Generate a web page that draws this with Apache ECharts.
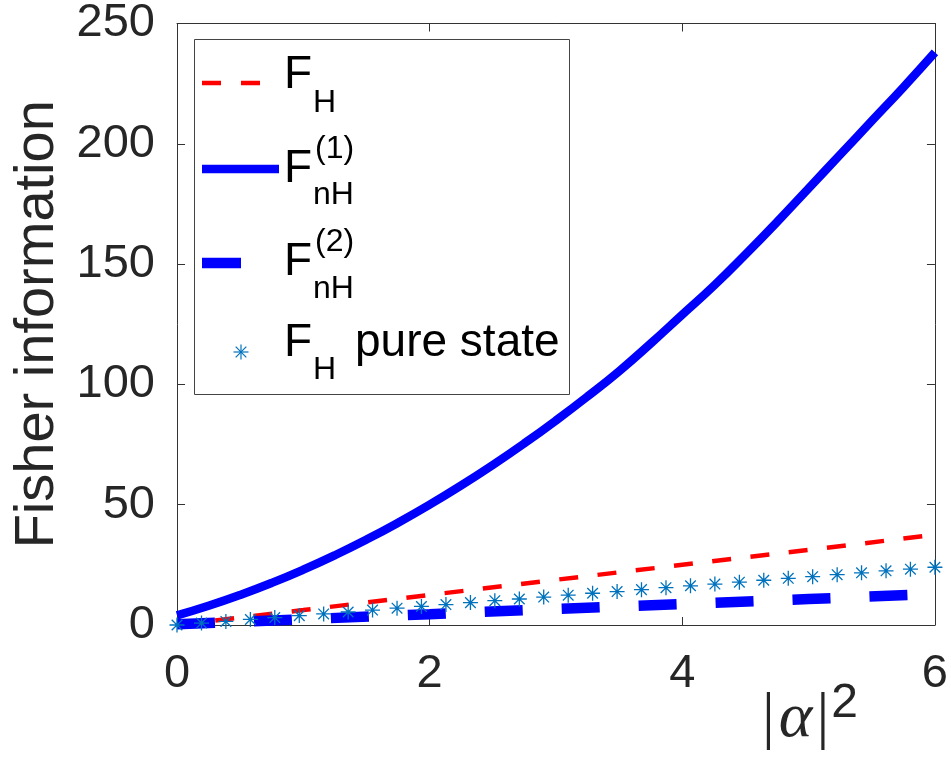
<!DOCTYPE html>
<html>
<head>
<meta charset="utf-8">
<script src="https://cdn.jsdelivr.net/npm/echarts@6/dist/echarts.min.js"></script>
<style>
html,body{margin:0;padding:0;background:#fff;}
#chart{width:951px;height:768px;}
</style>
</head>
<body>
<div id="chart"></div>
<script>
// ---- data ----
const xTicks = [0, 2, 4, 6];
const yTicks = [0, 50, 100, 150, 200, 250];

const fH_x = [0, 1, 2, 3, 4, 5, 6];
const fH_y = [0, 6.2, 12.5, 18.8, 25.0, 31.2, 37.5];

const fnH1_x = [0, 0.25, 0.5, 0.75, 1, 1.25, 1.5, 1.75, 2, 2.25, 2.5, 2.75, 3, 3.25, 3.5, 3.75, 4, 4.25, 4.5, 4.75, 5, 5.25, 5.5, 5.75, 6];
const fnH1_y = [4.0, 8.0, 12.5, 17.5, 23.0, 29.0, 35.5, 42.5, 50.0, 58.0, 66.5, 75.5, 85.0, 95.0, 105.5, 117.0, 129.0, 141.0, 154.0, 167.5, 181.5, 195.5, 209.5, 223.5, 238.0];

const fnH2_x = [0, 1, 2, 3, 4, 5, 6];
const fnH2_y = [0.3, 2.4, 4.5, 6.7, 8.7, 10.8, 12.9];

const pure_x = [0, 0.194, 0.387, 0.581, 0.774, 0.968, 1.161, 1.355, 1.548, 1.742, 1.935, 2.129, 2.323, 2.516, 2.710, 2.903, 3.097, 3.290, 3.484, 3.677, 3.871, 4.065, 4.258, 4.452, 4.645, 4.839, 5.032, 5.226, 5.419, 5.613, 5.806, 6.0];
const pure_y = [0, 0.8, 1.5, 2.3, 3.1, 3.9, 4.6, 5.4, 6.2, 7.0, 7.7, 8.5, 9.3, 10.1, 10.8, 11.6, 12.4, 13.2, 13.9, 14.7, 15.5, 16.3, 17.0, 17.8, 18.6, 19.4, 20.1, 20.9, 21.7, 22.5, 23.2, 24.0];

const pair = (xs, ys) => xs.map((x, i) => [x, ys[i]]);

const SANS = "'Liberation Sans', Arial, Helvetica, sans-serif";
const SERIF = "'Liberation Serif', 'Times New Roman', serif";
const AX = '#333333';
const TXT = '#262626';
const STAR = 'path://M0,-7.5L0,7.5M-7.5,0L7.5,0M-5.3,-5.3L5.3,5.3M-5.3,5.3L5.3,-5.3';

const chart = echarts.init(document.getElementById('chart'), null, {renderer: 'canvas'});

function starLines(cx, cy) {
  const arms = [[0,-7.5,0,7.5],[-7.5,0,7.5,0],[-5.3,-5.3,5.3,5.3],[-5.3,5.3,5.3,-5.3]];
  return arms.map(a => ({
    type: 'line', z: 101,
    shape: {x1: cx + a[0], y1: cy + a[1], x2: cx + a[2], y2: cy + a[3]},
    style: {stroke: '#0072BD', lineWidth: 1.2}
  }));
}
function txt(x, y, text, size) {
  return {type: 'text', z: 101, x: x, y: y,
    style: {text: text, fontSize: size, fontFamily: SANS, fill: '#000', align: 'left', verticalAlign: 'middle'}};
}
function seg(x1, x2, y, color, w, dash) {
  return {type: 'line', z: 101, shape: {x1: x1, y1: y, x2: x2, y2: y},
    style: {stroke: color, lineWidth: w, lineDash: dash || null}};
}

const option = {
  animation: false,
  backgroundColor: '#fff',
  grid: {left: 177, right: 16, top: 17, bottom: 143, containLabel: false},
  xAxis: [{
    type: 'value', min: 0, max: 6, interval: 2, position: 'bottom',
    axisLine: {show: true, onZero: false, lineStyle: {color: AX, width: 1}},
    axisTick: {show: true, inside: true, length: 8, lineStyle: {color: AX}},
    splitLine: {show: false},
    axisLabel: {fontSize: 47, fontFamily: SANS, color: TXT, margin: 26},
    name: '{v||}{a|α}{v||}{s|2}',
    nameLocation: 'end', nameGap: -77,
    nameTextStyle: {
      align: 'right', verticalAlign: 'top', padding: [59, 0, 0, 0],
      rich: {
        v: {fontFamily: SERIF, fontSize: 64, color: TXT, lineHeight: 70, verticalAlign: 'middle'},
        a: {fontFamily: SERIF, fontStyle: 'italic', fontSize: 64, color: TXT, lineHeight: 70, verticalAlign: 'middle', padding: [0, 4, 0, 4]},
        s: {fontFamily: SANS, fontSize: 48, color: TXT, lineHeight: 34, padding: [0, 0, 31, 2], verticalAlign: 'middle'}
      }
    }
  }, {
    type: 'value', min: 0, max: 6, interval: 2, position: 'top',
    axisLine: {show: true, onZero: false, lineStyle: {color: AX, width: 1}},
    axisTick: {show: true, inside: true, length: 8, lineStyle: {color: AX}},
    axisLabel: {show: false}, splitLine: {show: false}
  }],
  yAxis: [{
    type: 'value', min: 0, max: 250, interval: 50, position: 'left',
    axisLine: {show: true, onZero: false, lineStyle: {color: AX, width: 1}},
    axisTick: {show: true, inside: true, length: 8, lineStyle: {color: AX}},
    splitLine: {show: false},
    axisLabel: {fontSize: 47, fontFamily: SANS, color: TXT, margin: 22, padding: [6, 0, 0, 0]},
    name: 'Fisher information', nameLocation: 'middle', nameGap: 111,
    nameTextStyle: {fontSize: 56, fontFamily: SANS, color: TXT}
  }, {
    type: 'value', min: 0, max: 250, interval: 50, position: 'right',
    axisLine: {show: true, onZero: false, lineStyle: {color: AX, width: 1}},
    axisTick: {show: true, inside: true, length: 8, lineStyle: {color: AX}},
    axisLabel: {show: false}, splitLine: {show: false}
  }],
  series: [
    {name: 'F_H', type: 'line', data: pair(fH_x, fH_y), showSymbol: false, symbol: 'none',
     lineStyle: {color: '#FF0000', width: 4.5, type: [19, 19.5], cap: 'butt'}, z: 2},
    {name: 'F_nH1', type: 'line', data: pair(fnH1_x, fnH1_y), showSymbol: false, symbol: 'none', smooth: true,
     lineStyle: {color: '#0000FF', width: 8.5}, z: 3},
    {name: 'F_nH2', type: 'line', data: pair(fnH2_x, fnH2_y), showSymbol: false, symbol: 'none',
     lineStyle: {color: '#0000FF', width: 10.5, type: [38, 39], cap: 'butt'}, z: 4},
    {name: 'F_H pure state', type: 'scatter', data: pair(pure_x, pure_y), symbol: STAR, symbolSize: 15, clip: false,
     itemStyle: {color: 'rgba(0,0,0,0)', borderColor: '#0072BD', borderWidth: 1.3, opacity: 1}, z: 5}
  ],
  graphic: [
    {type: 'rect', z: 100, shape: {x: 194.5, y: 39.5, width: 375, height: 355},
     style: {fill: '#fff', stroke: '#444', lineWidth: 1}},
    seg(202, 260, 83, '#FF0000', 4.5, [19, 20]),
    txt(284, 75, 'F', 46), txt(313, 103, 'H', 32),
    seg(202, 279, 169, '#0000FF', 8.5),
    txt(284, 169, 'F', 46), txt(315, 149, '(1)', 32), txt(313, 195, 'nH', 32),
    seg(202, 241, 263, '#0000FF', 10.5),
    txt(284, 262, 'F', 46), txt(315, 242, '(2)', 32), txt(313, 289, 'nH', 32),
    ...starLines(241, 352),
    txt(284, 343, 'F', 46), txt(313, 370, 'H', 32), txt(355, 343, 'pure state', 46)
  ]
};
chart.setOption(option);
</script>
</body>
</html>
